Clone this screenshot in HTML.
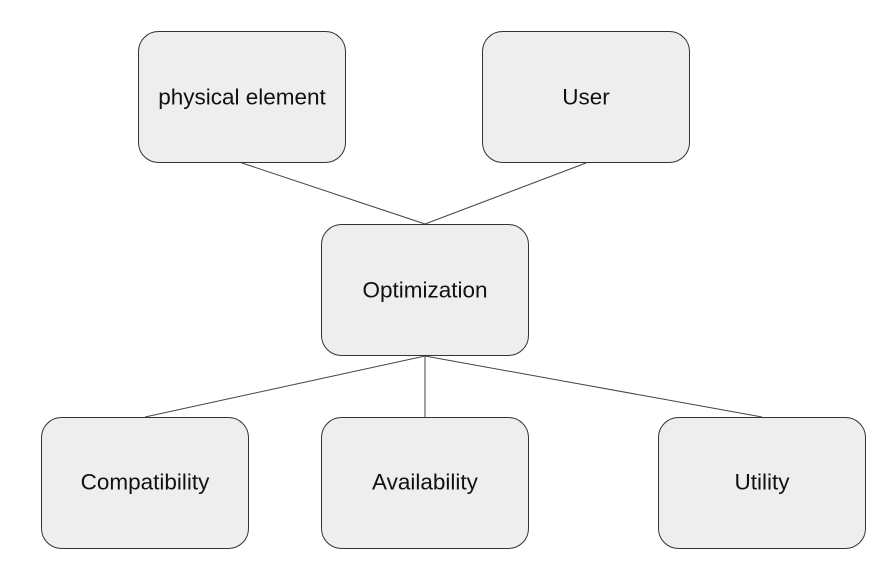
<!DOCTYPE html>
<html><head><style>
body{margin:0;background:#fff;}
svg{display:block;}
text{font-family:"Liberation Sans",sans-serif;font-size:22.5px;fill:#111;text-anchor:middle;dominant-baseline:central;}
rect{fill:#eeeeee;stroke:#333;stroke-width:1;}
line{stroke:#444;stroke-width:1;}
</style></head><body>
<svg width="880" height="570" viewBox="0 0 880 570">
<line x1="242" y1="163" x2="425" y2="224"/>
<line x1="586" y1="163" x2="425" y2="224"/>
<line x1="425" y1="356" x2="145" y2="417"/>
<line x1="425" y1="356" x2="425" y2="417"/>
<line x1="425" y1="356" x2="762" y2="417"/>
<rect x="138.5" y="31.5" width="207" height="131" rx="20"/>
<text x="242" y="97">physical element</text>
<rect x="482.5" y="31.5" width="207" height="131" rx="20"/>
<text x="586" y="97">User</text>
<rect x="321.5" y="224.5" width="207" height="131" rx="20"/>
<text x="425" y="290">Optimization</text>
<rect x="41.5" y="417.5" width="207" height="131" rx="20"/>
<text x="145" y="482">Compatibility</text>
<rect x="321.5" y="417.5" width="207" height="131" rx="20"/>
<text x="425" y="482">Availability</text>
<rect x="658.5" y="417.5" width="207" height="131" rx="20"/>
<text x="762" y="482">Utility</text>
</svg>
</body></html>
